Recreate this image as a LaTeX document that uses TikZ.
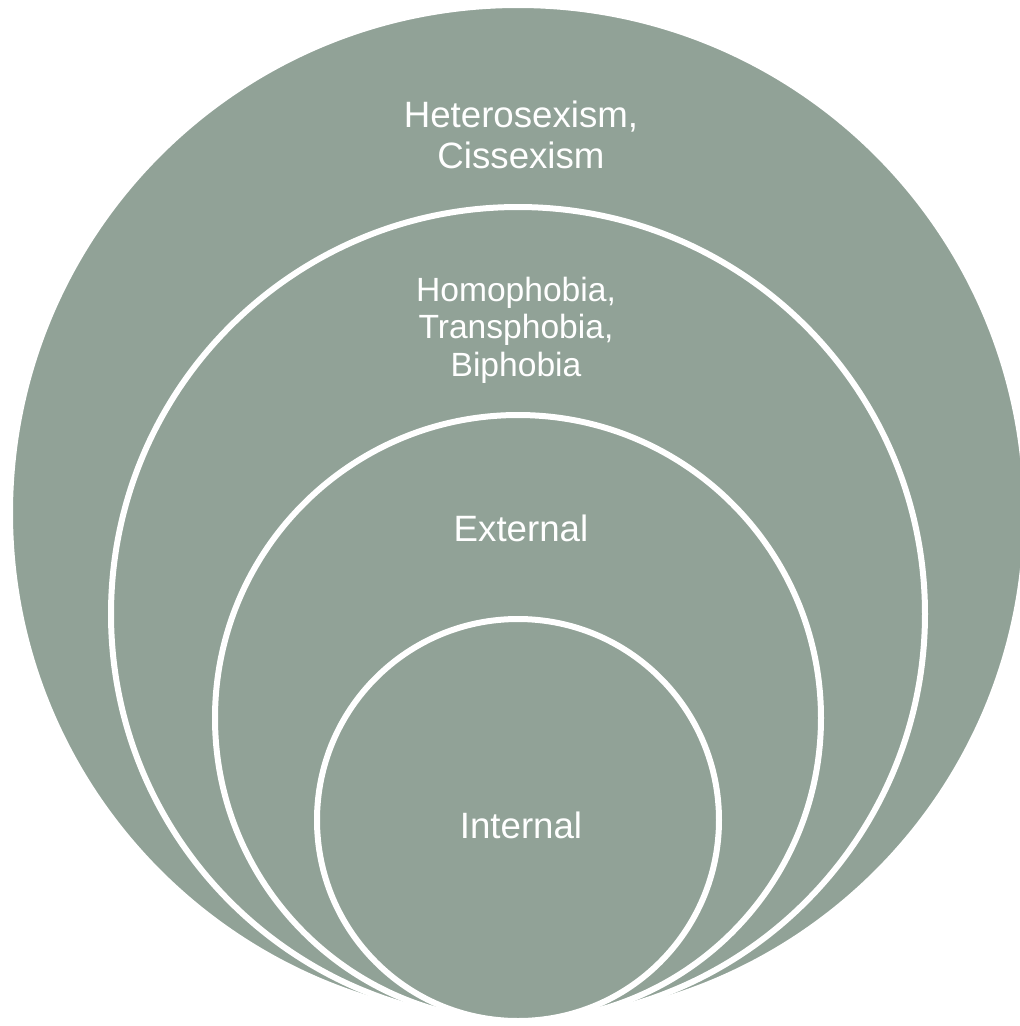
\documentclass[tikz,border=0pt]{standalone}
\usepackage{fontspec}
\setmainfont{Liberation Sans}
\definecolor{sage}{RGB}{145,162,151}

\begin{document}
\begin{tikzpicture}[x=0.75pt,y=-0.75pt]
\tikzstyle{ring}=[draw=white,fill=sage,circle,line width=4.5pt,inner sep=0pt];
\tikzstyle{lbl}=[text=white,align=center,inner sep=0pt,font=\fontsize{27.5}{30.75}\selectfont];
\tikzstyle{lblsmall}=[text=white,align=center,inner sep=0pt,font=\fontsize{25.2}{28.1}\selectfont];
\useasboundingbox (0,0) rectangle (1020,1026);
\clip (0,0) rectangle (1020,1026);
\node [ring,minimum size=762pt] (outer) at (518,513) {};
\node [ring,minimum size=610.5pt] (phobia) at (518,614) {};
\node [ring,minimum size=454.5pt] (external) at (518,718) {};
\node [ring,minimum size=301.5pt] (internal) at (518,820) {};
\node [lbl] (t1) at (521,135) {Heterosexism,\\Cissexism};
\node [lblsmall] (t2) at (516,330) {Homophobia,\\Transphobia,\\Biphobia};
\node [lbl] (t3) at (521,528) {External};
\node [lbl] (t4) at (521,825) {Internal};
\end{tikzpicture}
\end{document}
